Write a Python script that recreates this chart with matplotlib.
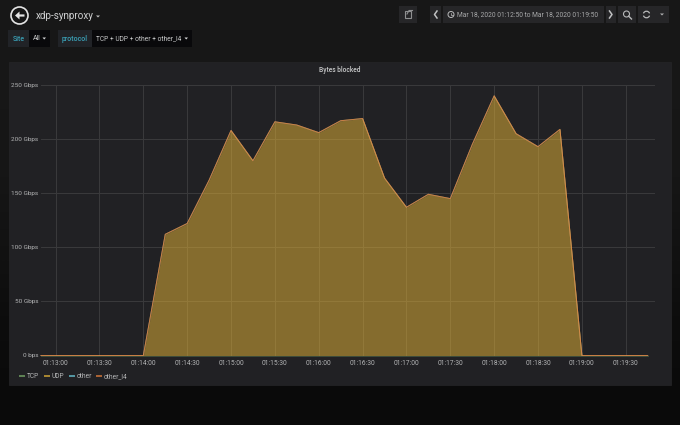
import numpy as np
import pandas as pd
import matplotlib
matplotlib.use('Agg')
import matplotlib.pyplot as plt
import matplotlib.dates as mdates
from matplotlib.patches import Arc, Circle, FancyArrow, Polygon, Rectangle

plt.rcParams['font.family'] = ['Roboto', 'DejaVu Sans']

times = ['01:12:50', '01:13:00', '01:13:15', '01:13:30', '01:13:45', '01:14:00', '01:14:15', '01:14:30',
         '01:14:45', '01:15:00', '01:15:15', '01:15:30', '01:15:45', '01:16:00', '01:16:15', '01:16:30',
         '01:16:45', '01:17:00', '01:17:15', '01:17:30', '01:17:45', '01:18:00', '01:18:15', '01:18:30',
         '01:18:45', '01:19:00', '01:19:15', '01:19:30', '01:19:45']
tcp = [0] * 29
udp = [0, 0, 0, 0, 0, 0, 112, 122, 162, 208, 180, 216, 213, 206, 217, 219,
       164, 137, 149, 145, 195, 240, 205, 193, 209, 0, 0, 0, 0]
other = [0] * 29
other_l4 = [0] * 29

series_names = ['TCP', 'UDP', 'other', 'other_l4']
series_colors = ['#7EB26D', '#EAB839', '#6ED0E0', '#EF843C']
y_ticks = [0, 50, 100, 150, 200, 250]
y_labels = ['0 bps', '50 Gbps', '100 Gbps', '150 Gbps', '200 Gbps', '250 Gbps']
x_ticks = ['01:13:00', '01:13:30', '01:14:00', '01:14:30', '01:15:00', '01:15:30', '01:16:00', '01:16:30',
           '01:17:00', '01:17:30', '01:18:00', '01:18:30', '01:19:00', '01:19:30']

W, H = 680, 425
TEXT = '#b4b5b6'
TEAL = '#3a9fb5'


def to_time(values):
    return pd.to_datetime(['2020-03-18 ' + v for v in values])


def draw_chrome(fig):
    # page background, panel, header buttons, all in pixel coordinates
    bg = fig.add_axes([0, 0, 1, 1], zorder=0)
    bg.axis('off')
    shade = np.array([[0.090], [0.090], [0.086], [0.070], [0.050], [0.040]])
    bg.imshow(shade, extent=[0, W, H, 0], aspect='auto', cmap='gray', vmin=0, vmax=1,
              interpolation='bilinear', zorder=0)
    bg.set_xlim(0, W)
    bg.set_ylim(H, 0)
    bg.add_patch(Rectangle((9, 62), 662, 323, fc='#212124', ec='#262628', lw=0.5, zorder=1))

    # back button and dashboard title
    bg.add_patch(Circle((19.5, 15.5), 8.5, fc='none', ec='#e4e4e4', lw=1.2, zorder=2))
    bg.add_patch(FancyArrow(24.5, 15.5, -9.5, 0, width=2.2, head_width=8, head_length=4.5,
                            length_includes_head=True, fc='#e4e4e4', ec='none', zorder=2))
    bg.text(36, 15.5, 'xdp-synproxy', color='#d0d1d2', fontsize=7.1, va='center', zorder=2)
    bg.add_patch(Polygon([[96, 15.5], [100, 15.5], [98, 17.5]], fc='#c0c0c0', ec='none', zorder=2))

    # template variables
    bg.add_patch(Rectangle((8, 30), 21, 17, fc='#212327', ec='none', zorder=1))
    bg.add_patch(Rectangle((29, 30), 21, 17, fc='#09090b', ec='none', zorder=1))
    bg.add_patch(Rectangle((58, 30), 34, 17, fc='#212327', ec='none', zorder=1))
    bg.add_patch(Rectangle((92, 30), 100, 17, fc='#09090b', ec='none', zorder=1))
    bg.text(18.5, 38.5, 'Site', color=TEAL, fontsize=5.0, ha='center', va='center', weight='medium', zorder=2)
    bg.text(33, 38.5, 'All', color='#c8c9ca', fontsize=5.0, va='center', zorder=2)
    bg.add_patch(Polygon([[42.5, 37.5], [46, 37.5], [44.2, 39.5]], fc='#d8d9da', ec='none', zorder=2))
    bg.text(75, 38.5, 'protocol', color=TEAL, fontsize=5.0, ha='center', va='center', weight='medium', zorder=2)
    bg.text(96, 38.5, 'TCP + UDP + other + other_l4', color='#c8c9ca', fontsize=4.8, va='center', zorder=2)
    bg.add_patch(Polygon([[184.5, 37.5], [188, 37.5], [186.2, 39.5]], fc='#d8d9da', ec='none', zorder=2))

    # time picker toolbar
    for x0, w in [(399, 18), (430, 11), (443, 161), (606, 10), (618, 18), (638, 31)]:
        bg.add_patch(Rectangle((x0, 5.5), w, 17.5, fc='#262628', ec='none', zorder=1))
    bg.add_patch(Rectangle((404.5, 11), 6.5, 6.5, fc='none', ec='#8f9091', lw=0.8, zorder=2))
    bg.plot([407, 409, 412.5], [14, 10.5, 10.5], color='#8f9091', lw=0.8, zorder=3)
    bg.plot([437, 434.5, 437], [11, 14.5, 18], color='#c0c1c2', lw=1.1, zorder=2)
    bg.plot([609.5, 612, 609.5], [11, 14.5, 18], color='#c0c1c2', lw=1.1, zorder=2)
    bg.add_patch(Circle((451, 14.5), 3, fc='none', ec='#b8b9ba', lw=0.7, zorder=2))
    bg.plot([451, 451, 452.5], [12.8, 14.7, 14.7], color='#b8b9ba', lw=0.5, zorder=2)
    bg.text(457, 14.5, 'Mar 18, 2020 01:12:50 to Mar 18, 2020 01:19:50', color='#a8a9aa',
            fontsize=4.75, va='center', zorder=2)
    bg.add_patch(Circle((626.5, 14), 3, fc='none', ec='#b8b9ba', lw=0.8, zorder=2))
    bg.plot([628.7, 631.5], [16.2, 19], color='#b8b9ba', lw=1, zorder=2)
    bg.add_patch(Arc((646.5, 14.5), 6.5, 6.5, theta1=20, theta2=160, ec='#b8b9ba', lw=0.9, zorder=2))
    bg.add_patch(Arc((646.5, 14.5), 6.5, 6.5, theta1=200, theta2=340, ec='#b8b9ba', lw=0.9, zorder=2))
    bg.add_patch(Polygon([[660, 13.5], [664, 13.5], [662, 15.5]], fc='#b0b1b2', ec='none', zorder=2))

    bg.text(340, 70, 'Bytes blocked', color='#c8c9ca', fontsize=4.8, ha='center', va='center',
            weight='medium', zorder=2)


def draw_legend(fig):
    # grafana legend sits under the graph, drawn by hand to get the spacing right
    leg = fig.add_axes([0, 0, 1, 1], zorder=3)
    leg.set_xlim(0, W)
    leg.set_ylim(H, 0)
    leg.axis('off')
    swatch_x = [19, 44, 69, 96]
    for x0, name, color in zip(swatch_x, series_names, series_colors):
        leg.plot([x0, x0 + 6], [376, 376], color=color, lw=1.2, alpha=0.8, solid_capstyle='butt')
        leg.text(x0 + 8, 375.5, name, color=TEXT, fontsize=4.8, va='center_baseline')


def main():
    fig = plt.figure(figsize=(W / 100, H / 100), dpi=100)
    draw_chrome(fig)

    ax = fig.add_axes([41 / W, 1 - 355.5 / H, (655 - 41) / W, (355.5 - 85) / H], zorder=2)
    ax.patch.set_alpha(0)

    t = to_time(times)
    x = mdates.date2num(t)
    stacks = np.cumsum([tcp, udp, other, other_l4], axis=0)
    base = np.zeros(len(x))
    for top, color in zip(stacks, series_colors):
        ax.fill_between(x, base, top, color=color, alpha=0.5, lw=0, zorder=2)
        # only the last series is seen on top, the others sit under it
        line_alpha = 0.75 if color == series_colors[-1] else 0.3
        ax.plot(x, top, color=color, lw=0.7, alpha=line_alpha, zorder=3, clip_on=False)
        base = top

    ax.set_xlim(mdates.date2num(to_time(['01:12:50']))[0], mdates.date2num(to_time(['01:19:50']))[0])
    ax.set_ylim(0, 250)
    ax.set_xticks(mdates.date2num(to_time(x_ticks)))
    ax.set_xticklabels(x_ticks)
    ax.set_yticks(y_ticks)
    ax.set_yticklabels(y_labels)
    ax.grid(True, color='#3a3a3c', lw=0.7, zorder=1)
    ax.set_axisbelow(True)
    ax.tick_params(axis='x', length=0, colors=TEXT, labelsize=4.8, pad=3.5)
    ax.tick_params(axis='y', length=0, colors=TEXT, labelsize=4.6, pad=2)
    for spine in ax.spines.values():
        spine.set_visible(False)

    draw_legend(fig)
    fig.savefig('out.png', dpi=100)


if __name__ == '__main__':
    main()
